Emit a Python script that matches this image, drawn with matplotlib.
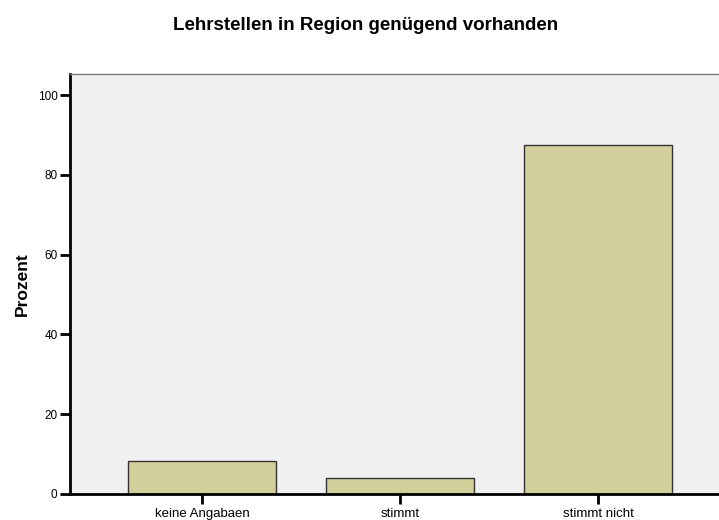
import matplotlib

matplotlib.use("Agg")
import matplotlib.pyplot as plt
import numpy as np

plt.rcParams["font.family"] = ["Liberation Sans", "DejaVu Sans"]

categories = ["keine Angabaen", "stimmt", "stimmt nicht"]
percent = [8.3, 4.1, 87.6]

fig = plt.figure(figsize=(7.19, 5.2), dpi=100)
# axes box: left 70px, right 719px, top 74px, bottom 494px
ax = fig.add_axes([70 / 719, 1 - 494 / 520, (719 - 70) / 719, (494 - 74) / 520])
ax.set_facecolor("#f0f0f0")

x = np.arange(len(categories))
ax.bar(x, percent, width=0.75, color="#d3cf9a", edgecolor="#333333", linewidth=1, zorder=2)

ax.set_xlim(-0.667, 2.61)
ax.set_ylim(0, 105.3)
ax.set_yticks([0, 20, 40, 60, 80, 100])
ax.set_xticks(x)
ax.set_xticklabels(categories)
ax.tick_params(axis="both", direction="out", length=7, width=2, color="black", pad=2)
ax.tick_params(axis="y", labelsize=8.5)
ax.tick_params(axis="x", labelsize=9.5, pad=3)

for side in ("left", "bottom"):
    ax.spines[side].set_linewidth(2)
    ax.spines[side].set_color("black")
ax.spines["top"].set_color("#777777")
ax.spines["top"].set_linewidth(1)
ax.spines["right"].set_visible(False)

ax.set_ylabel("Prozent", fontsize=12.5, fontweight="bold", labelpad=5.5)
fig.text(366 / 719, 1 - 26 / 520, "Lehrstellen in Region genügend vorhanden",
         ha="center", va="center", fontsize=13.5, fontweight="bold")

fig.savefig("out.png", dpi=100)
